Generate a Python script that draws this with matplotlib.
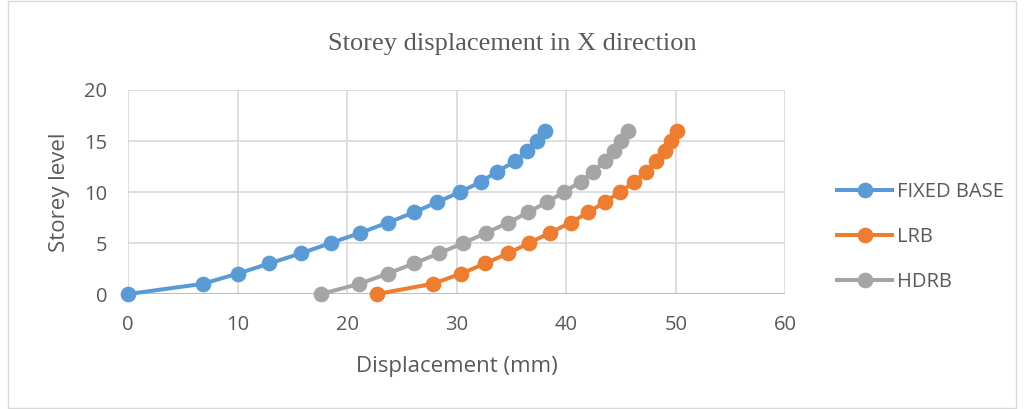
import matplotlib.pyplot as plt
from matplotlib.patches import Rectangle

# storey levels and displacements (mm)
levels = list(range(17))
fixed_base = [0, 6.8, 10.0, 12.9, 15.8, 18.5, 21.2, 23.7, 26.1, 28.2,
              30.3, 32.2, 33.7, 35.3, 36.4, 37.3, 38.1]
lrb = [22.7, 27.8, 30.4, 32.6, 34.7, 36.6, 38.5, 40.4, 42.0, 43.5,
       44.9, 46.2, 47.3, 48.2, 49.0, 49.6, 50.1]
hdrb = [17.6, 21.1, 23.7, 26.1, 28.4, 30.6, 32.7, 34.7, 36.5, 38.2,
        39.8, 41.3, 42.4, 43.5, 44.4, 45.0, 45.6]

txt = '#595959'
plt.rcParams['font.family'] = ['Open Sans', 'DejaVu Sans']

fig = plt.figure(figsize=(10.24, 4.09), dpi=100)
ax = fig.add_axes([0.125, 0.281, 0.642, 0.499])

for xs, col, name in [(fixed_base, '#5b9bd5', 'FIXED BASE'),
                      (lrb, '#ed7d31', 'LRB'),
                      (hdrb, '#a5a5a5', 'HDRB')]:
    ax.plot(xs, levels, color=col, marker='o', lw=2.9, ms=10.3, label=name, clip_on=False)

ax.set_xlim(0, 60)
ax.set_ylim(0, 20)
ax.set_xticks(range(0, 61, 10))
ax.set_yticks(range(0, 21, 5))
ax.grid(color='#d9d9d9', lw=1.2)
ax.set_axisbelow(True)
for s in ax.spines.values():
    s.set_visible(False)
ax.axhline(0, color='#bfbfbf', lw=1.5, zorder=1)
ax.tick_params(length=0, labelsize=14.5, colors=txt)
ax.tick_params(axis='x', pad=15)
ax.tick_params(axis='y', pad=15)

ax.set_xlabel('Displacement (mm)', fontsize=16, color=txt, labelpad=15)
ax.set_ylabel('Storey level', fontsize=16, color=txt, labelpad=10)
fig.text(0.5, 0.893, 'Storey displacement in X direction', ha='center', va='center',
         fontsize=19, color=txt, family='Liberation Serif')

leg = ax.legend(loc='center left', bbox_to_anchor=(1.079, 0.28), frameon=False,
                fontsize=14.5, labelspacing=1.25, handlelength=2.7, handletextpad=0.25,
                borderaxespad=0, borderpad=0)
for t in leg.get_texts():
    t.set_color(txt)

fig.patches.append(Rectangle((0.008, 0.003), 0.984, 0.994, transform=fig.transFigure,
                             fill=False, edgecolor='#d9d9d9', lw=1))

fig.savefig('out.png', dpi=100)
